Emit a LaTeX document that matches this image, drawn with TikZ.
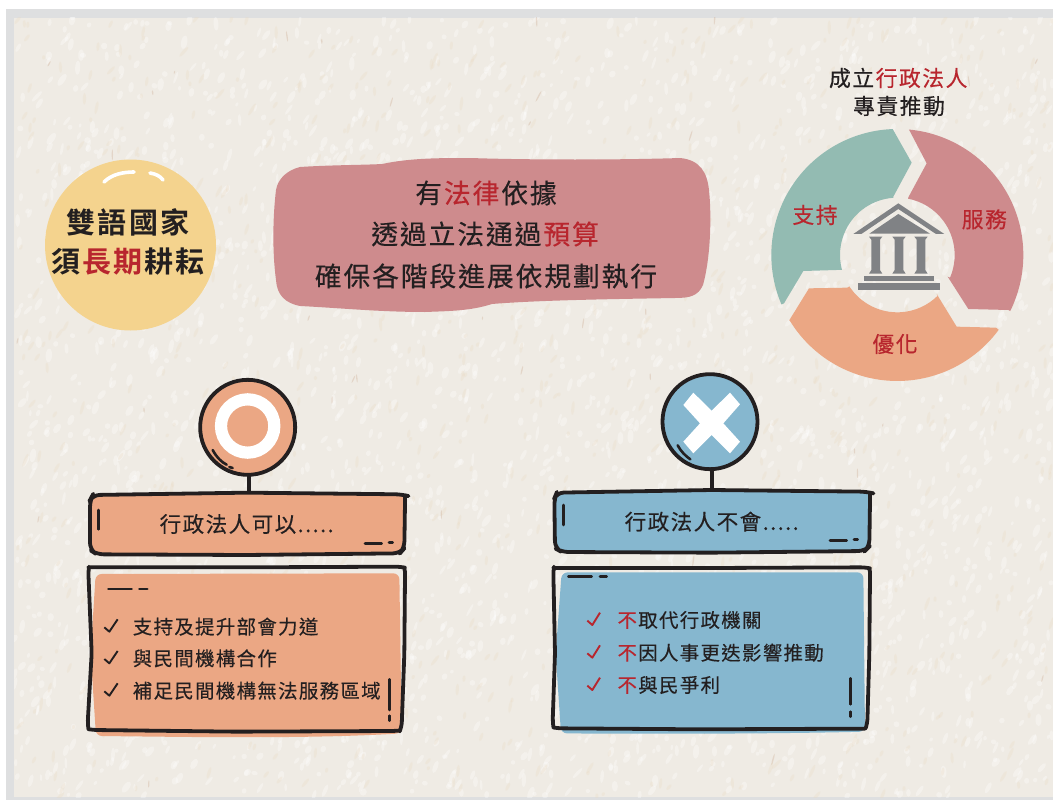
\documentclass[tikz,border=0pt]{standalone}
\usepackage{fontspec}
\usetikzlibrary{calc}
\setmainfont{Noto Sans CJK TC}
\newfontfamily\cjkr[LetterSpace=7,FakeBold=0.35]{Noto Sans CJK TC}
\newfontfamily\cjkb[LetterSpace=7,BoldFont={Noto Sans CJK TC Bold}]{Noto Sans CJK TC}
\definecolor{ink}{HTML}{231F20}
\definecolor{redt}{HTML}{B8262E}
\definecolor{greenc}{HTML}{93BBB2}
\definecolor{pinkc}{HTML}{CE8B8D}
\definecolor{orangec}{HTML}{EBA784}
\definecolor{bluec}{HTML}{86B7CF}
\definecolor{yellowc}{HTML}{F4D38E}
\definecolor{iconc}{HTML}{808285}
\definecolor{paper}{HTML}{EFEBE4}
\definecolor{frame}{HTML}{DEDFE0}
\definecolor{creamfleck}{HTML}{EBD9BF}
\definecolor{tanfleck}{HTML}{C9A488}
\newcommand{\rd}[1]{\kern.07em\textcolor{redt}{#1}\kern.07em}
\tikzset{
  sketch/.style={draw=ink,line width=3.8pt,line cap=round,line join=round},
  tick/.style={draw=ink,line width=2.6pt,line cap=round},
  headtext/.style={font=\cjkr\fontsize{26.8}{30}\selectfont,text=ink,inner sep=0pt},
  roundtext/.style={font=\cjkb\bfseries\fontsize{29}{32}\selectfont,text=ink,inner sep=0pt},
  ringtext/.style={font=\cjkr\fontsize{21.8}{25}\selectfont,text=ink,inner sep=0pt},
  boxtitle/.style={font=\cjkr\fontsize{21.5}{25}\selectfont,text=ink,inner sep=0pt},
  itemtext/.style={font=\cjkr\fontsize{19.4}{23}\selectfont,text=ink,inner sep=0pt,anchor=west},
  checkmark/.style={draw=#1,line width=1.9pt,line join=round},
  badge/.style={circle,sketch,inner sep=0pt,minimum size=95pt}
}
\begin{document}
\begin{tikzpicture}[x=1pt,y=-1pt]
\useasboundingbox (0,0) rectangle (1053,800);
\fill[white] (0,0) rectangle (1053,800);
\fill[frame] (6,9) rectangle (1053,800);
\fill[paper] (14,18) rectangle (1053,797);
% paper texture
\begin{scope}
\clip (14,18) rectangle (1053,797);
\pgfmathsetseed{4711}
\foreach \i in {1,...,3000}{
  \pgfmathsetmacro{\px}{14+rnd*1039}
  \pgfmathsetmacro{\py}{18+rnd*779}
  \pgfmathsetmacro{\ang}{45+rnd*50}
  \pgfmathsetmacro{\lng}{2+rnd*5}
  \pgfmathsetmacro{\wid}{1.2+rnd*2}
  \fill[white,opacity=.33,rotate around={\ang:(\px,\py)}] (\px,\py) ellipse[x radius=\lng,y radius=\wid];
}
\foreach \i in {1,...,900}{
  \pgfmathsetmacro{\px}{14+rnd*1039}
  \pgfmathsetmacro{\py}{18+rnd*779}
  \pgfmathsetmacro{\ang}{45+rnd*50}
  \pgfmathsetmacro{\lng}{2+rnd*5}
  \fill[creamfleck,opacity=.25,rotate around={\ang:(\px,\py)}] (\px,\py) ellipse[x radius=\lng,y radius=1.6];
}
\foreach \i in {1,...,60}{
  \pgfmathsetmacro{\px}{14+rnd*1039}
  \pgfmathsetmacro{\py}{18+rnd*779}
  \pgfmathsetmacro{\ang}{60+rnd*40}
  \pgfmathsetmacro{\lng}{1.5+rnd*5}
  \fill[tanfleck,opacity=.3,rotate around={\ang:(\px,\py)}] (\px,\py) ellipse[x radius=\lng,y radius=.7];
}
\end{scope}
% yellow circle
\node[circle,fill=yellowc,inner sep=0pt,minimum size=171pt] (goal) at (130.5,245) {};
\draw[white,line width=3.6pt,line cap=round] (104,182) .. controls (112,174) and (124,172) .. (134,172);
\draw[white,line width=3.6pt,line cap=round] (150,173) .. controls (156,174) and (160,176) .. (163,180);
\node[roundtext] (g1) at (128,222) {雙語國家};
\node[roundtext] (g2) at (128,262) {須\rd{長期}耕耘};
% pink blob
\fill[pinkc] (300,167) .. controls (330,165) and (365,165) .. (382,164)
  .. controls (410,158) and (440,158) .. (470,158)
  .. controls (530,160) and (620,160) .. (680,158)
  .. controls (700,160) and (707,172) .. (709,190)
  .. controls (712,220) and (710,260) .. (703,285)
  .. controls (698,296) and (690,298) .. (675,298)
  .. controls (620,299) and (540,300) .. (492,304)
  .. controls (470,311) and (450,311) .. (425,312)
  .. controls (380,312) and (340,308) .. (300,306)
  .. controls (285,303) and (277,295) .. (276,280)
  .. controls (272,250) and (273,215) .. (276,190)
  .. controls (278,178) and (288,170) .. (300,167) -- cycle;
\node[headtext] (h1) at (486,193) {有\rd{法律}依據};
\node[headtext] (h2) at (486,234) {透過立法通過\rd{預算}};
\node[headtext] (h3) at (486,276) {確保各階段進展依規劃執行};
% title of cycle
\node[ringtext] (r1) at (899,78) {成立\rd{行政法人}};
\node[ringtext] (r2) at (899,106) {專責推動};
% ring (coordinates of the 3x crop)
\begin{scope}[shift={(760,60)},scale=0.33333]
\coordinate (c) at (412,585);
\fill[greenc] (72,730) -- ($(c)+(156.9:378)$) arc[start angle=156.9,end angle=267.9,radius=378]
  -- (455,308) -- (400,410) -- ($(c)+(266.1:172)$) arc[start angle=266.1,end angle=165,radius=172] -- (130,633) -- cycle;
\fill[pinkc] ($(c)+(-84.7:378)$) arc[start angle=-84.7,end angle=26.4,radius=378]
  -- (745,750) -- (625,747) -- (563,650) -- ($(c)+(23.3:172)$) arc[start angle=23.3,end angle=-79.2,radius=172] -- (445,412) -- (500,310) -- cycle;
\fill[orangec] (708,803) -- ($(c)+(36.4:378)$) arc[start angle=36.4,end angle=148.8,radius=378]
  -- (87,782) -- (147,685) -- (262,683) -- ($(c)+(146.8:172)$) arc[start angle=146.8,end angle=44.8,radius=172] -- (530,702) -- (590,800) -- cycle;
\fill[iconc] (280,522) -- (415,430) -- (553,522) -- (528,522) -- (415,447) -- (304,522) -- cycle;
\fill[iconc] (328,521) -- (415,462) -- (510,521) -- cycle;
\foreach \cx in {347,417,483}{
  \fill[iconc] (\cx-20,530) -- (\cx+20,530) -- (\cx+13,539) -- (\cx+13,630) -- (\cx+20,641) -- (\cx-20,641) -- (\cx-13,630) -- (\cx-13,539) -- cycle;
}
\fill[iconc] (312,648) rectangle (522,663);
\fill[iconc] (293,670) rectangle (540,691);
\node[ringtext,text=redt] (s1) at (165,465) {支持};
\node[ringtext,text=redt] (s2) at (673,478) {服務};
\node[ringtext,text=redt] (s3) at (405,852) {優化};
\end{scope}
% left card (coordinates of the 3x crop)
\begin{scope}[shift={(70,370)},scale=0.33333]
\node[badge,fill=orangec] (okc) at (533,172) {};
\draw[white,line width=12.2pt] (533,168) circle[radius=80];
\draw[tick] (428,240) .. controls (440,262) and (455,277) .. (470,284);
\draw[tick] (478,291) -- (488,294);
\coordinate (okt) at (537,367);
\draw[sketch] (okc.south -| okt) -- (okt);
\path[fill=orangec,rounded corners=7pt,sketch] (68,375) -- (530,368) -- (995,373) .. controls (1003,375) and (1005,385) .. (1005,400) -- (1003,535) -- (990,550) -- (530,555) -- (80,553) -- (60,540) -- (60,390) -- cycle;
\draw[tick] (85,420) -- (85,478);
\draw[tick] (885,520) -- (935,520);
\draw[tick] (957,517) -- (968,517);
\node[boxtitle] (okh) at (530,462) {行政法人可以.....};
\fill[orangec,rounded corners=6pt] (77,612) -- (988,610) -- (995,1090) .. controls (700,1108) and (300,1100) .. (78,1098) -- (62,850) -- cycle;
\draw[sketch,rounded corners=5pt] (55,605) .. controls (56,597) and (60,592) .. (70,592) -- (530,592) -- (990,590) .. controls (1000,592) and (1005,600) .. (1005,620) -- (1003,850) -- (995,1070) .. controls (990,1082) and (985,1082) .. (975,1083) -- (500,1085) -- (70,1080) .. controls (58,1078) and (55,1075) .. (53,1060) -- (65,850) -- cycle;
\draw[tick] (115,657) -- (185,657);
\draw[tick] (208,657) -- (232,657);
\draw[tick] (958,928) -- (958,1020);
\draw[tick] (958,1037) -- (958,1052);
\foreach \yy in {770,865,962}{\draw[checkmark=ink] (103,\yy+2) -- (118,\yy+15) -- (143,\yy-22);}
\node[itemtext] (ok1) at (188,770) {支持及提升部會力道};
\node[itemtext] (ok2) at (188,865) {與民間機構合作};
\node[itemtext] (ok3) at (188,962) {補足民間機構無法服務區域};
\end{scope}
% right card
\begin{scope}[shift={(535,370)},scale=0.33333]
\node[badge,fill=bluec] (noc) at (525,155) {};
\fill[white] (475,68) -- (530,122) -- (585,68) -- (615,103) -- (565,160) -- (615,215) -- (585,250) -- (530,195) -- (475,250) -- (445,215) -- (495,160) -- (445,105) -- cycle;
\draw[tick] (428,226) .. controls (438,245) and (452,258) .. (466,268);
\coordinate (not) at (530,352);
\draw[sketch] (noc.south -| not) -- (not);
\path[fill=bluec,rounded corners=7pt,sketch] (65,368) -- (530,360) -- (995,365) .. controls (1003,367) and (1005,377) .. (1005,395) -- (1003,530) -- (990,543) -- (530,548) -- (80,546) -- (60,535) -- (58,385) -- cycle;
\draw[tick] (85,405) -- (85,465);
\draw[tick] (885,512) -- (935,512);
\draw[tick] (957,509) -- (968,509);
\node[boxtitle] (noh) at (530,455) {行政法人不會.....};
\fill[bluec,rounded corners=6pt] (80,607) -- (985,607) -- (990,1085) .. controls (700,1092) and (300,1092) .. (78,1090) -- (62,850) -- cycle;
\draw[sketch,rounded corners=5pt] (55,605) .. controls (56,597) and (60,594) .. (70,594) -- (530,594) -- (990,592) .. controls (1000,594) and (1005,600) .. (1005,620) -- (1003,850) -- (997,1060) .. controls (992,1075) and (985,1076) .. (975,1076) -- (500,1078) -- (70,1075) .. controls (58,1073) and (55,1070) .. (53,1055) -- (60,850) -- cycle;
\draw[tick] (100,620) -- (170,620);
\draw[tick] (195,620) -- (215,620);
\draw[tick] (946,925) -- (946,1003);
\draw[tick] (946,1025) -- (946,1040);
\foreach \yy in {750,848,945}{\draw[checkmark=redt] (157,\yy+2) -- (172,\yy+15) -- (195,\yy-22);}
\node[itemtext] (no1) at (243,750) {\rd{不}取代行政機關};
\node[itemtext] (no2) at (243,848) {\rd{不}因人事更迭影響推動};
\node[itemtext] (no3) at (243,945) {\rd{不}與民爭利};
\end{scope}
\end{tikzpicture}
\end{document}
